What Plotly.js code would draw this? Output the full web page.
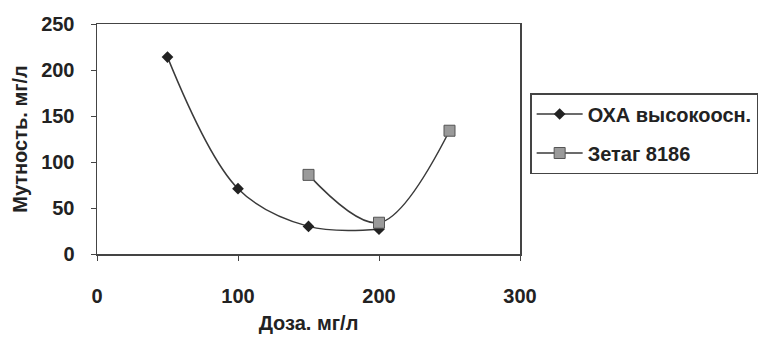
<!DOCTYPE html>
<html><head><meta charset="utf-8">
<script src="https://cdn.plot.ly/plotly-3.0.1.min.js"></script>
<style>html,body{margin:0;padding:0;background:#fff}</style>
</head><body>
<div id="chart" style="width:772px;height:340px"></div>
<script>
var oxaDose = [50, 100, 150, 200];
var oxaTurb = [214, 71, 30, 27];
var zetagDose = [150, 200, 250];
var zetagTurb = [86, 34, 134];
var seriesNames = ["ОХА высокоосн.", "Зетаг 8186"];
var xTicks = [0, 100, 200, 300];
var yTicks = [0, 50, 100, 150, 200, 250];

var traces = [
  {x: oxaDose, y: oxaTurb, name: seriesNames[0], legendgroup: 'a', type: 'scatter', mode: 'lines+markers',
   line: {shape: 'spline', smoothing: 1, color: '#3a3a3a', width: 1.5},
   marker: {symbol: 'diamond', size: 9, color: '#222', line: {width: 0}}},
  {x: zetagDose, y: zetagTurb, name: seriesNames[1], legendgroup: 'b', type: 'scatter', mode: 'lines+markers',
   line: {shape: 'spline', smoothing: 1, color: '#3a3a3a', width: 1.5},
   marker: {symbol: 'square', size: 11, color: '#9a9a9a', line: {width: 1, color: '#555'}}}
];
var fam = 'Liberation Sans, Arial, sans-serif';
var bold20 = {family: fam, size: 20, color: '#222', weight: 'bold'};
var layout = {
  width: 772, height: 340,
  margin: {l: 97, r: 252, t: 24, b: 86},
  paper_bgcolor: '#fff', plot_bgcolor: '#fff',
  font: {family: fam, color: '#222'},
  showlegend: true,
  xaxis: {range: [0, 300], tickvals: xTicks, ticktext: xTicks.map(String),
    showgrid: false, zeroline: false, showline: true, linecolor: '#444', linewidth: 1.5,
    mirror: true, ticks: 'outside', ticklen: 5, tickcolor: '#444', ticklabelstandoff: 18,
    tickfont: bold20,
    title: {text: 'Доза. мг/л', standoff: 10, font: bold20}},
  yaxis: {range: [0, 250], tickvals: yTicks, ticktext: yTicks.map(String),
    showgrid: false, zeroline: false, showline: true, linecolor: '#444', linewidth: 1.5,
    mirror: true, ticks: 'outside', ticklen: 5, tickcolor: '#444', ticklabelstandoff: 12,
    tickfont: bold20,
    title: {text: 'Мутность. мг/л', standoff: 8, font: bold20}},
  legend: {x: 1.024, xanchor: 'left', y: 0.70, yanchor: 'top',
    bordercolor: '#444', borderwidth: 1.5, bgcolor: '#fff',
    font: {family: fam, size: 20, color: '#222', weight: 'bold'},
    itemwidth: 46, traceorder: 'grouped', tracegroupgap: 10}
};
Plotly.newPlot('chart', traces, layout, {displayModeBar: false, staticPlot: true});
</script>
</body></html>
